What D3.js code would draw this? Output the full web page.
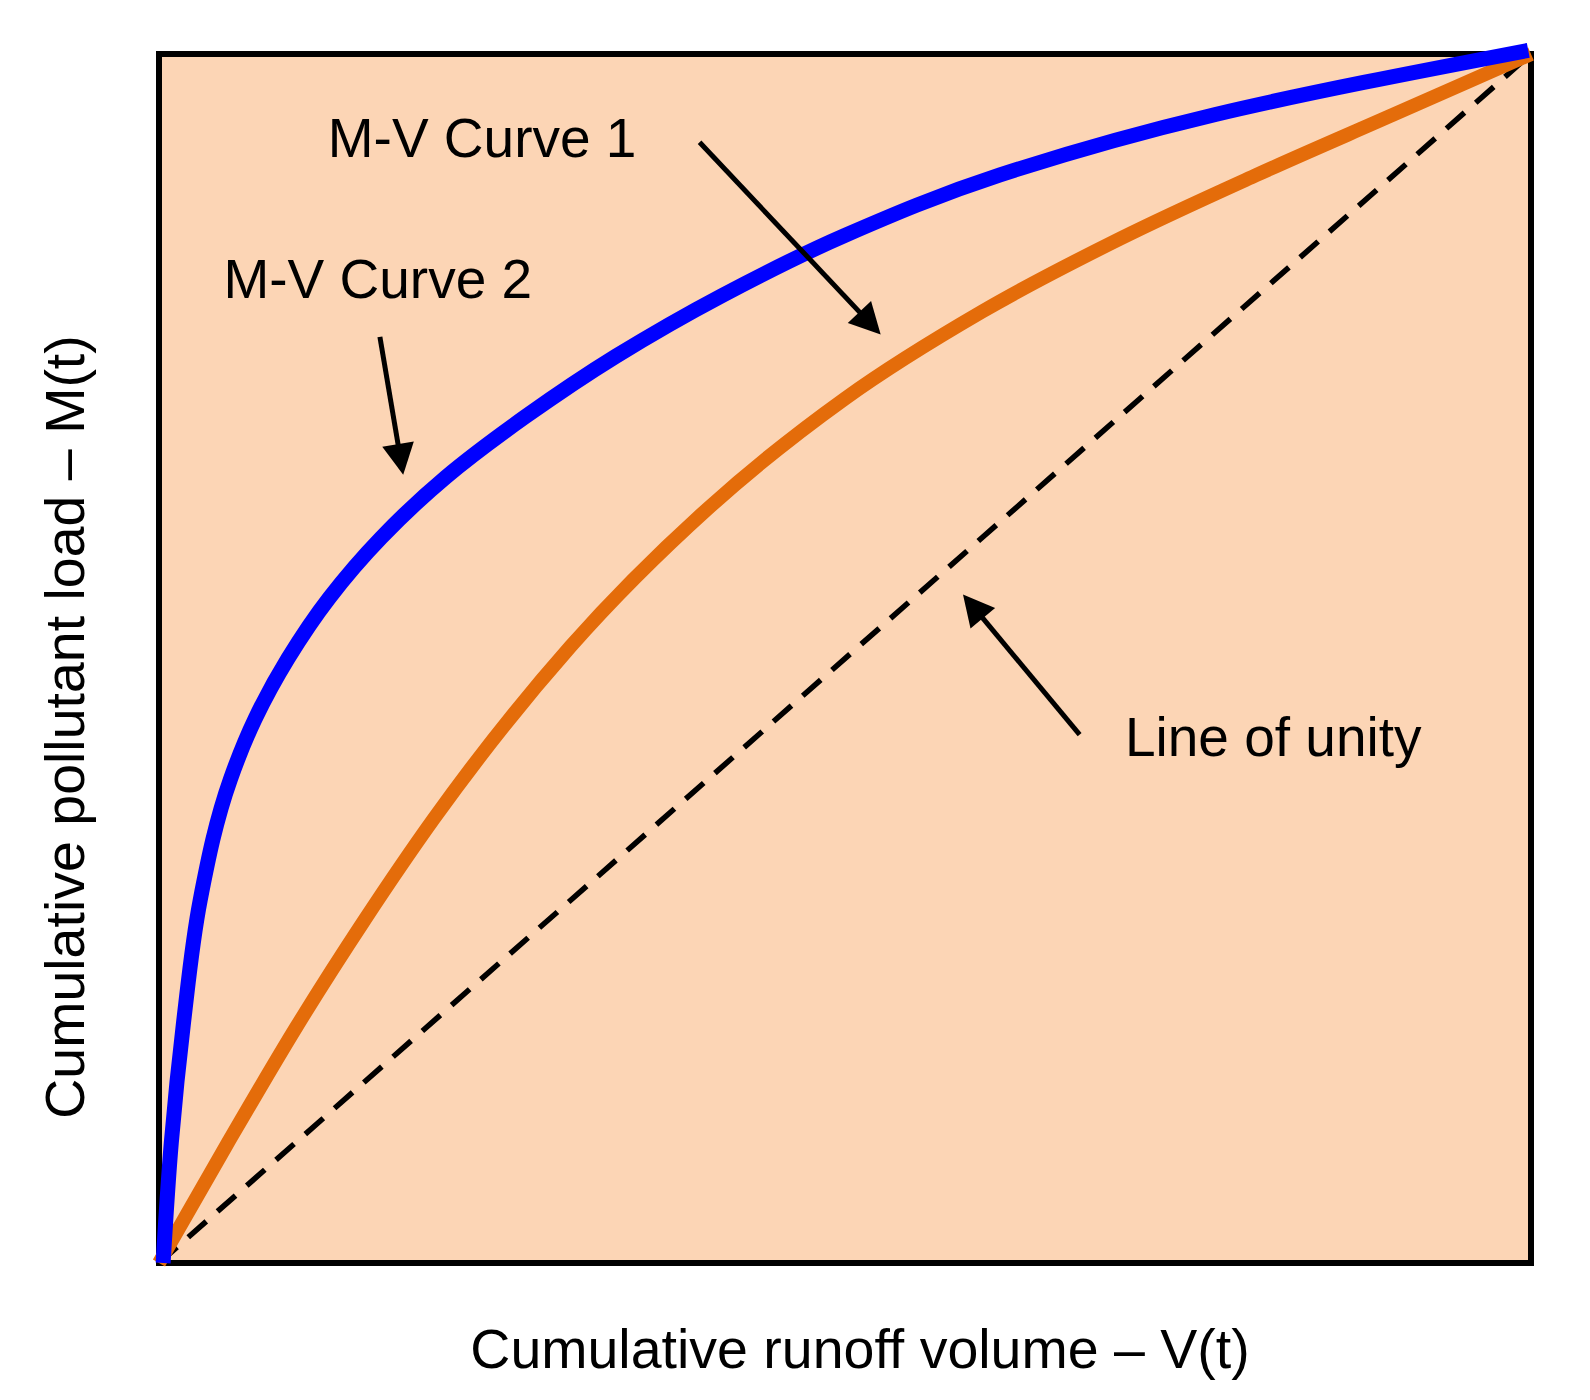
<!DOCTYPE html>
<html>
<head>
<meta charset="utf-8">
<script src="https://cdn.jsdelivr.net/npm/d3@7"></script>
<style>
  html, body { margin: 0; padding: 0; background: #ffffff; }
  svg { display: block; }
  text { font-family: "Liberation Sans", Arial, sans-serif; fill: #000; }
</style>
</head>
<body>
<script>
// ---- data (normalised cumulative volume V, cumulative load M) ----
// M-V Curve 1 (orange)
const curve1V = [0, 0.05, 0.10, 0.15, 0.20, 0.30, 0.40, 0.50, 0.60, 0.70, 0.80, 0.90, 1.00];
const curve1M = [0, 0.099, 0.195, 0.284, 0.367, 0.510, 0.624, 0.715, 0.787, 0.847, 0.900, 0.950, 1.00];

// M-V Curve 2 (blue)
const curve2V = [0.003, 0.009, 0.018, 0.030, 0.052, 0.070, 0.094, 0.124, 0.162, 0.209, 0.267, 0.333, 0.410, 0.500, 0.613, 0.770, 0.998];
const curve2M = [0, 0.10, 0.20, 0.30, 0.40, 0.45, 0.50, 0.55, 0.60, 0.65, 0.70, 0.75, 0.80, 0.85, 0.90, 0.95, 1.003];

// Line of unity
const unityV = [0, 1];
const unityM = [0, 1];

const labelTexts = ["M-V Curve 1", "M-V Curve 2", "Line of unity"];
const labelV = [0.123, 0.047, 0.704];
const labelM = [0.915, 0.798, 0.419];

const arrowFromV = [0.394, 0.161, 0.671];
const arrowFromM = [0.927, 0.766, 0.437];
const arrowToV = [0.526, 0.178, 0.586];
const arrowToM = [0.768, 0.652, 0.553];

const xTitle = "Cumulative runoff volume \u2013 V(t)";
const yTitle = "Cumulative pollutant load \u2013 M(t)";

// ---- layout ----
const W = 1590, H = 1400;
const mLeft = 159, mRight = 1531, mTop = 54, mBottom = 1263;

const svg = d3.select("body").append("svg").attr("width", W).attr("height", H);
svg.append("rect").attr("width", W).attr("height", H).attr("fill", "#ffffff");

const x = d3.scaleLinear().domain([0, 1]).range([mLeft, mRight]);
const y = d3.scaleLinear().domain([0, 1]).range([mBottom, mTop]);

// plot frame
svg.append("rect")
  .attr("x", x(0)).attr("y", y(1))
  .attr("width", x(1) - x(0)).attr("height", y(0) - y(1))
  .attr("fill", "#FCD5B5").attr("stroke", "#000").attr("stroke-width", 6);

// line of unity
svg.append("path")
  .datum(d3.zip(unityV, unityM))
  .attr("d", d3.line().x(d => x(d[0])).y(d => y(d[1])))
  .attr("fill", "none").attr("stroke", "#000").attr("stroke-width", 5.5)
  .attr("stroke-dasharray", "24,15");

// orange curve
svg.append("path")
  .datum(d3.zip(curve1V, curve1M))
  .attr("d", d3.line().x(d => x(d[0])).y(d => y(d[1])).curve(d3.curveMonotoneX))
  .attr("fill", "none").attr("stroke", "#E46C0A").attr("stroke-width", 14);

// blue curve
svg.append("path")
  .datum(d3.zip(curve2V, curve2M))
  .attr("d", d3.line().x(d => x(d[0])).y(d => y(d[1])).curve(d3.curveMonotoneY))
  .attr("fill", "none").attr("stroke", "#0000FF").attr("stroke-width", 15);

// arrows
const headLen = 31, headHalf = 16;
d3.range(arrowFromV.length).forEach(i => {
  const x0 = x(arrowFromV[i]), y0 = y(arrowFromM[i]);
  const x1 = x(arrowToV[i]), y1 = y(arrowToM[i]);
  const dx = x1 - x0, dy = y1 - y0, L = Math.hypot(dx, dy);
  const ux = dx / L, uy = dy / L;
  const bx = x1 - ux * headLen, by = y1 - uy * headLen;
  svg.append("line")
    .attr("x1", x0).attr("y1", y0).attr("x2", bx + ux * 2).attr("y2", by + uy * 2)
    .attr("stroke", "#000").attr("stroke-width", 5);
  svg.append("path")
    .attr("d", `M${x1},${y1}L${bx - uy * headHalf},${by + ux * headHalf}L${bx + uy * headHalf},${by - ux * headHalf}Z`)
    .attr("fill", "#000");
});

// labels
labelTexts.forEach((t, i) => {
  svg.append("text")
    .attr("x", x(labelV[i])).attr("y", y(labelM[i]))
    .attr("font-size", 55)
    .text(t);
});

// axis titles
svg.append("text")
  .attr("x", 860).attr("y", 1368)
  .attr("text-anchor", "middle").attr("font-size", 55.5)
  .text(xTitle);

svg.append("text")
  .attr("transform", "translate(84,727) rotate(-90)")
  .attr("text-anchor", "middle").attr("font-size", 55.5)
  .text(yTitle);
</script>
</body>
</html>
